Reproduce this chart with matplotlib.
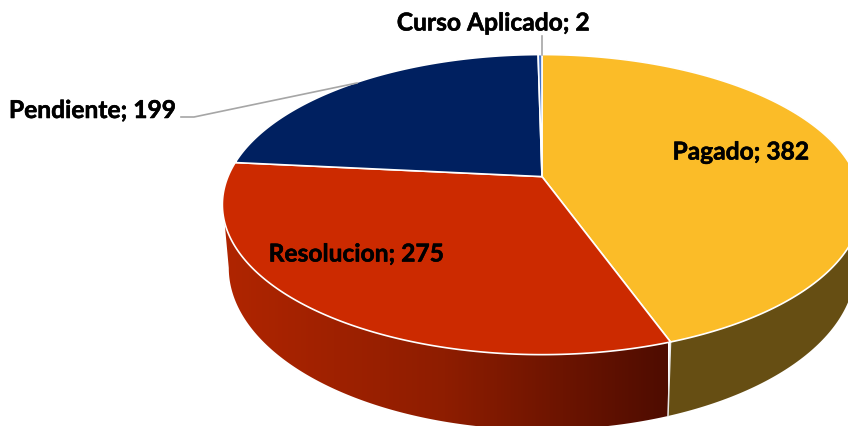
import numpy as np
import matplotlib
matplotlib.use("Agg")
import matplotlib.pyplot as plt
from matplotlib.patches import Polygon
from matplotlib.colors import LinearSegmentedColormap
import matplotlib.patheffects as pe

categories = ["Pagado", "Resolucion", "Pendiente", "Curso Aplicado"]
values = [382, 275, 199, 2]
top_colors = ["#FBBC28", "#CC2A00", "#002060", "#4472C4"]

W, H = 848, 427
fig = plt.figure(figsize=(W / 100, H / 100), dpi=100, facecolor="white")
ax = fig.add_axes([0, 0, 1, 1])
ax.set_xlim(0, W)
ax.set_ylim(H, 0)
ax.axis("off")

CX, CY, A, B, K, DEPTH, SHRINK = 542, 177.6, 314, 144.8, -0.1867, 61, 0.98
WALL_TOP_END, WALL_BOTTOM_END = 4.41, 4.524


def top(theta):
    u, v = np.sin(theta), -np.cos(theta)
    d = 1 + K * v
    return CX + A * u / d, CY + B * v / d


def bottom(theta):
    x, y = top(theta)
    v = -np.cos(theta)
    return CX + (x - CX) * SHRINK, y + DEPTH / (1 + K * v)


fractions = np.array(values) / sum(values)
edges = np.concatenate([[0], np.cumsum(fractions)]) * 2 * np.pi

# Side wall: Pagado flat olive
t = np.linspace(edges[0], edges[1], 200)
xt, yt = top(t)
xb, yb = bottom(t)
ax.add_patch(Polygon(np.r_[np.c_[xt, yt], np.c_[xb, yb][::-1]], closed=True,
                     fc="#664E13", ec="none", zorder=1))

# Side wall: Resolucion with a horizontal gradient
xt, yt = top(np.linspace(edges[1], WALL_TOP_END, 240))
xb, yb = bottom(np.linspace(edges[1], WALL_BOTTOM_END, 240))
wall = Polygon(np.r_[np.c_[xt, yt], np.c_[xb, yb][::-1]], closed=True,
               fc="none", ec="none", transform=ax.transData)
ax.add_patch(wall)
cmap = LinearSegmentedColormap.from_list("wall", ["#B02500", "#8E1D00", "#4E0C00"])
im = ax.imshow(np.linspace(0, 1, 256)[None, :], cmap=cmap, aspect="auto",
               extent=(222, 668, H, 0), zorder=1, interpolation="bilinear")
im.set_clip_path(wall)
ax.set_xlim(0, W)
ax.set_ylim(H, 0)

# White seam between side-wall segments
xa, ya = top(edges[1])
xc, yc = bottom(edges[1])
ax.plot([xa, xc], [ya, yc], color="#E8E8E8", lw=1.1, zorder=2)

# Top face
for i, col in enumerate(top_colors):
    t = np.linspace(edges[i], edges[i + 1], 200)
    x, y = top(t)
    pts = np.r_[[[CX, CY]], np.c_[x, y]]
    ax.add_patch(Polygon(pts, closed=True, fc=col, ec="white", lw=1.2, zorder=3, joinstyle="round"))

# Leader lines
ax.plot([181, 194, 357], [118, 118, 84], color="#A6A6A6", lw=1.2, zorder=4)
ax.plot([541.5, 541.5], [37, 56], color="#A6A6A6", lw=1.2, zorder=4)

# Labels
font = dict(family="Lato", fontweight="bold", fontsize=17.7, color="black", zorder=5,
            path_effects=[pe.withStroke(linewidth=0.4, foreground="black")])
ax.text(741, 153, f"{categories[0]}; {values[0]}", ha="center", va="center", **font)
ax.text(356.5, 255, f"{categories[1]}; {values[1]}", ha="center", va="center", **font)
ax.text(92.5, 111.5, f"{categories[2]}; {values[2]}", ha="center", va="center", **font)
ax.text(493.5, 24, f"{categories[3]}; {values[3]}", ha="center", va="center", **font)

fig.savefig("out.png", dpi=100, facecolor="white")
